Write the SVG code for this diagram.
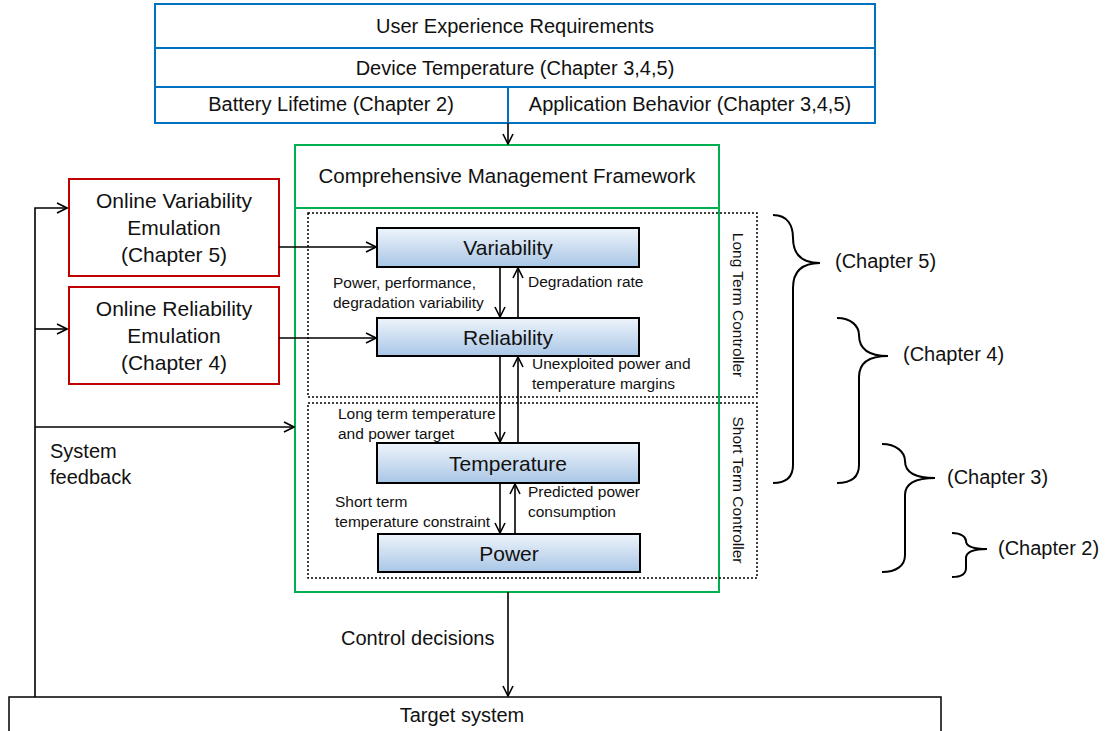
<svg xmlns="http://www.w3.org/2000/svg" width="1106" height="731" viewBox="0 0 1106 731">
<defs>
<linearGradient id="g" x1="0" y1="0" x2="0" y2="1">
<stop offset="0" stop-color="#eef4fb"/>
<stop offset="1" stop-color="#a9c6e6"/>
</linearGradient>
<marker id="a" viewBox="0 0 12 12" refX="11" refY="6" markerWidth="12" markerHeight="12" markerUnits="userSpaceOnUse" orient="auto">
<path d="M1,1 L11,6 L1,11" fill="none" stroke="#000" stroke-width="1.6"/>
</marker>
</defs>
<style>
text{font-family:"Liberation Sans",Arial,sans-serif;fill:#111}
.t21{font-size:21px}
.t19{font-size:20px}
.t15{font-size:15.5px}
.mid{text-anchor:middle}
.blue{fill:#fff;stroke:#0070C0;stroke-width:2}
.red{fill:#fff;stroke:#C00000;stroke-width:2}
.grn{fill:none;stroke:#00B050;stroke-width:2}
.blk{fill:url(#g);stroke:#000;stroke-width:2}
.dot{fill:none;stroke:#000;stroke-width:1.5;stroke-dasharray:2,2}
.ln{fill:none;stroke:#000;stroke-width:1.6}
.br{fill:none;stroke:#000;stroke-width:2}
</style>
<rect width="1106" height="731" fill="#fff"/>

<g id="requirements">
<rect class="blue" x="155" y="4" width="720" height="119"/>
<line class="blue" x1="155" y1="48" x2="875" y2="48"/>
<line class="blue" x1="155" y1="87" x2="875" y2="87"/>
<line class="blue" x1="508" y1="87" x2="508" y2="123"/>
<text class="t19 mid" x="515" y="33">User Experience Requirements</text>
<text class="t19 mid" x="515" y="75">Device Temperature (Chapter 3,4,5)</text>
<text class="t19 mid" x="331" y="111">Battery Lifetime (Chapter 2)</text>
<text class="t19 mid" x="690" y="111">Application Behavior (Chapter 3,4,5)</text>
</g>

<g id="framework">
<rect class="grn" x="295" y="145" width="424" height="447"/>
<line class="grn" x1="295" y1="208" x2="719" y2="208"/>
<text class="mid" style="font-size:20.5px" x="507" y="183">Comprehensive  Management Framework</text>
</g>

<g id="long-term">
<rect class="dot" x="308" y="213" width="449" height="184"/>
<text class="t15 mid" transform="translate(733,305) rotate(90)">Long Term Controller</text>
</g>
<g id="short-term">
<rect class="dot" x="308" y="403" width="449" height="175"/>
<text class="t15 mid" transform="translate(733,490) rotate(90)">Short Term Controller</text>
</g>

<g id="variability">
<rect class="blk" x="377" y="228" width="262" height="39"/>
<text class="t21 mid" x="508" y="255">Variability</text>
</g>
<g id="reliability">
<rect class="blk" x="377" y="318" width="262" height="38"/>
<text class="t21 mid" x="508" y="345">Reliability</text>
</g>
<g id="temperature">
<rect class="blk" x="377" y="443" width="262" height="40"/>
<text class="t21 mid" x="508" y="471">Temperature</text>
</g>
<g id="power">
<rect class="blk" x="378" y="534" width="262" height="38"/>
<text class="t21 mid" x="509" y="561">Power</text>
</g>

<g id="var-emulation">
<rect class="red" x="69" y="179" width="210" height="97"/>
<text class="t21 mid" x="174" y="208">Online Variability</text>
<text class="t21 mid" x="174" y="235">Emulation</text>
<text class="t21 mid" x="174" y="262">(Chapter 5)</text>
</g>
<g id="rel-emulation">
<rect class="red" x="69" y="287" width="210" height="97"/>
<text class="t21 mid" x="174" y="316">Online Reliability</text>
<text class="t21 mid" x="174" y="343">Emulation</text>
<text class="t21 mid" x="174" y="370">(Chapter 4)</text>
</g>

<g id="target">
<rect x="9" y="697" width="932" height="40" fill="#fff" stroke="#000" stroke-width="1.5"/>
<text class="t19 mid" x="462" y="722">Target system</text>
</g>

<g id="connectors">
<line class="ln" x1="508" y1="123" x2="508" y2="144" marker-end="url(#a)"/>
<line class="ln" x1="279" y1="247" x2="376" y2="247" marker-end="url(#a)"/>
<line class="ln" x1="279" y1="338" x2="376" y2="338" marker-end="url(#a)"/>
<line class="ln" x1="500" y1="267" x2="500" y2="317" marker-end="url(#a)"/>
<line class="ln" x1="518" y1="318" x2="518" y2="268" marker-end="url(#a)"/>
<line class="ln" x1="500" y1="356" x2="500" y2="442" marker-end="url(#a)"/>
<line class="ln" x1="518" y1="443" x2="518" y2="357" marker-end="url(#a)"/>
<line class="ln" x1="500" y1="483" x2="500" y2="533" marker-end="url(#a)"/>
<line class="ln" x1="515" y1="534" x2="515" y2="484" marker-end="url(#a)"/>
<line class="ln" x1="508" y1="592" x2="508" y2="696" marker-end="url(#a)"/>
<polyline class="ln" points="35,697 35,208 67,208" marker-end="url(#a)"/>
<line class="ln" x1="35" y1="329" x2="67" y2="329" marker-end="url(#a)"/>
<line class="ln" x1="35" y1="427" x2="294" y2="427" marker-end="url(#a)"/>
<text class="t15" x="333" y="288">Power, performance,</text>
<text class="t15" x="333" y="308">degradation variability</text>
<text class="t15" x="528" y="287">Degradation rate</text>
<text class="t15" x="532" y="369">Unexploited power and</text>
<text class="t15" x="532" y="389">temperature  margins</text>
<text class="t15" x="338" y="419">Long term temperature</text>
<text class="t15" x="338" y="439">and power target</text>
<text class="t15" x="335" y="507">Short term</text>
<text class="t15" x="335" y="527">temperature constraint</text>
<text class="t15" x="528" y="497">Predicted power</text>
<text class="t15" x="528" y="517">consumption</text>
<text class="t19" x="341" y="645">Control decisions</text>
<text class="t19" x="50" y="458">System</text>
<text class="t19" x="50" y="484">feedback</text>
</g>

<g id="braces">
<path class="br" d="M773,215 C788,215 793,226 793,238 C793,254 801,263 820,263 C801,263 793,272 793,288 L793,465 C793,477 786,483 773,483"/>
<text class="t19" x="835" y="268">(Chapter 5)</text>
<path class="br" d="M837,318 C851,318 859,326 859,335 C859,348 868,356 888,356 C868,356 859,364 859,377 L859,465 C859,477 851,483 837,483"/>
<text class="t19" x="903" y="361">(Chapter 4)</text>
<path class="br" d="M882,444 C896,444 905,452 905,461 C905,472 914,478 935,478 C914,478 905,484 905,495 L905,555 C905,566 896,572 882,572"/>
<text class="t19" x="947" y="484">(Chapter 3)</text>
<path class="br" d="M952,533 C961,533 966,537 966,541 C966,546 972,549 987,549 C972,549 966,552 966,558 L966,568 C966,574 961,577 952,577"/>
<text class="t19" x="998" y="555">(Chapter 2)</text>
</g>
</svg>
